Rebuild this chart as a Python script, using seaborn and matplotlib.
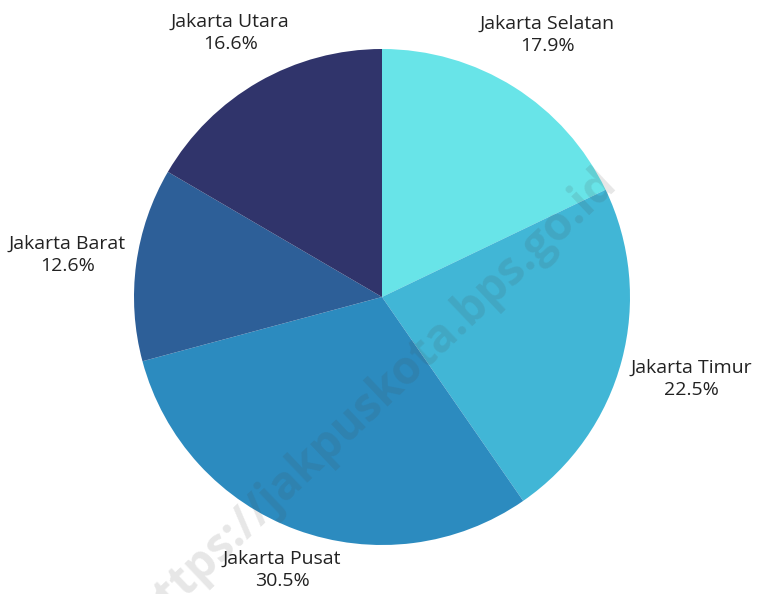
import numpy as np
import matplotlib
matplotlib.use("Agg")
import matplotlib.pyplot as plt
import seaborn as sns

# share of each city area (%), clockwise from 12 o'clock
regions = ["Jakarta Selatan", "Jakarta Timur", "Jakarta Pusat", "Jakarta Barat", "Jakarta Utara"]
shares = [17.9, 22.5, 30.5, 12.6, 16.6]
colors = ["#68E4E8", "#41B6D6", "#2C8BBF", "#2D5F98", "#30346B"]
watermark = "https://jakpuskota.bps.go.id"

# how far each label sits from the centre (in pie radii)
label_dist = [1.25, 1.29, 1.17, 1.28, 1.23]

sns.set_theme(style="white")
plt.rcParams["font.family"] = ["Open Sans", "DejaVu Sans"]

W, H = 757, 594
cx, cy, R = 382, 297, 248  # pie centre / radius in pixels

fig = plt.figure(figsize=(W / 100, H / 100), dpi=100)
ax = fig.add_axes([0, 0, 1, 1])

wedges, _ = ax.pie(
    shares,
    colors=sns.color_palette(colors),
    startangle=90,
    counterclock=False,
    radius=1.0,
    wedgeprops=dict(linewidth=0),
)

for w, name, val, d in zip(wedges, regions, shares, label_dist):
    ang = np.deg2rad((w.theta1 + w.theta2) / 2)
    ax.text(d * np.cos(ang), d * np.sin(ang), f"{name}\n{val:.1f}%",
            ha="center", va="center", multialignment="center",
            fontsize=14, color="#222222", linespacing=1.3)

ax.text(-0.03, -0.41, watermark, rotation=43.5, ha="center", va="center",
        fontsize=33, fontweight="bold", color="#444444", alpha=0.13, zorder=5)

ax.set_xlim(-cx / R, (W - cx) / R)
ax.set_ylim(-(H - cy) / R, cy / R)
ax.set_aspect("equal")
ax.axis("off")

fig.savefig("out.png", dpi=100, facecolor="white")
